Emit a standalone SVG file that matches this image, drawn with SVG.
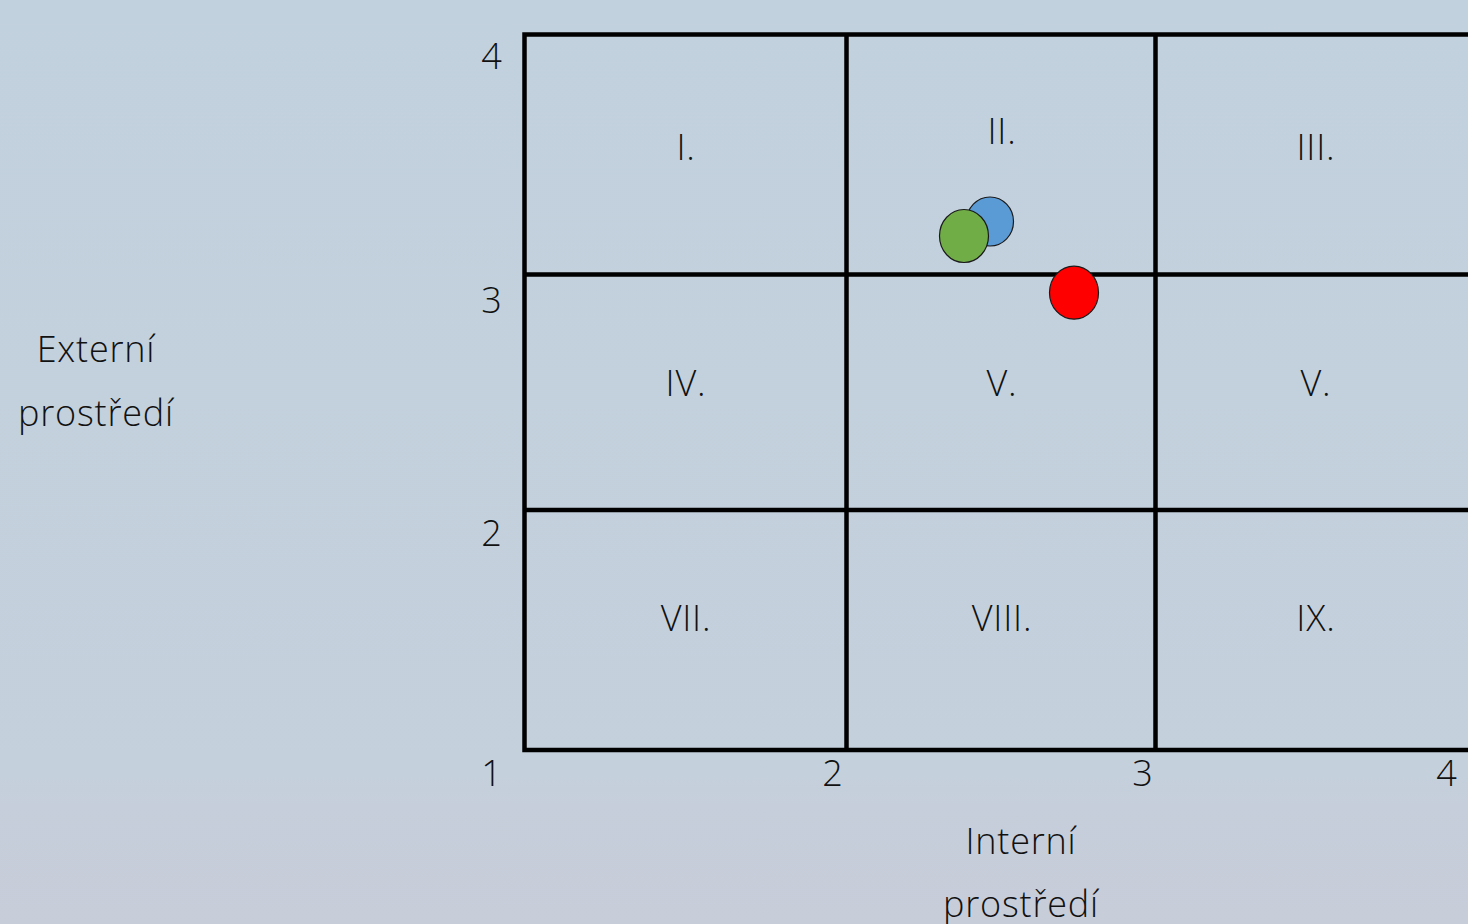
<svg xmlns="http://www.w3.org/2000/svg" width="1468" height="924" viewBox="0 0 1468 924">
<defs>
<linearGradient id="bg" x1="0" y1="0" x2="0" y2="1">
<stop offset="0" stop-color="#c2d1de"/>
<stop offset="0.84" stop-color="#c4d0dc"/>
<stop offset="0.87" stop-color="#c6cedb"/>
<stop offset="1" stop-color="#c7cdd9"/>
</linearGradient>
<style>
text{font-family:"Open Sans","Noto Sans","Liberation Sans",sans-serif;font-weight:300;font-size:36px;letter-spacing:0.8px;fill:#111;text-anchor:middle}
.grid{stroke:#000;stroke-width:4.5;fill:none}
.pt{stroke:#1a1a1a;stroke-width:1.2}
</style>
</defs>
<rect x="0" y="0" width="1468" height="924" fill="url(#bg)"/>
<g id="grid">
<path class="grid" d="M1470 34.5 H524.5 V750 H1470"/>
<path class="grid" d="M846.5 34.5 V750 M1155.5 34.5 V750 M524.5 274.5 H1470 M524.5 510 H1470"/>
</g>
<g id="cells">
<text x="686" y="160">I.</text>
<text x="1002" y="144">II.</text>
<text x="1316" y="160">III.</text>
<text x="686" y="396">IV.</text>
<text x="1002" y="396">V.</text>
<text x="1316" y="396">V.</text>
<text x="686" y="631">VII.</text>
<text x="1002" y="631">VIII.</text>
<text x="1316" y="631">IX.</text>
</g>
<g id="yaxis">
<text x="492" y="69">4</text>
<text x="492" y="313">3</text>
<text x="492" y="546">2</text>
</g>
<g id="xaxis">
<text x="492" y="786">1</text>
<text x="833" y="786">2</text>
<text x="1143" y="786">3</text>
<text x="1447" y="786">4</text>
</g>
<g id="labels">
<text x="96" y="362">Externí</text>
<text x="96" y="426">prostředí</text>
<text x="1021" y="854">Interní</text>
<text x="1021" y="917">prostředí</text>
</g>
<g id="points">
<ellipse class="pt" cx="990" cy="221.5" rx="23.5" ry="24.5" fill="#5b9bd5"/>
<ellipse class="pt" cx="964" cy="236" rx="24.5" ry="26.5" fill="#70ad47"/>
<ellipse class="pt" cx="1074" cy="292.7" rx="24.5" ry="26.5" fill="#ff0000"/>
</g>
</svg>
